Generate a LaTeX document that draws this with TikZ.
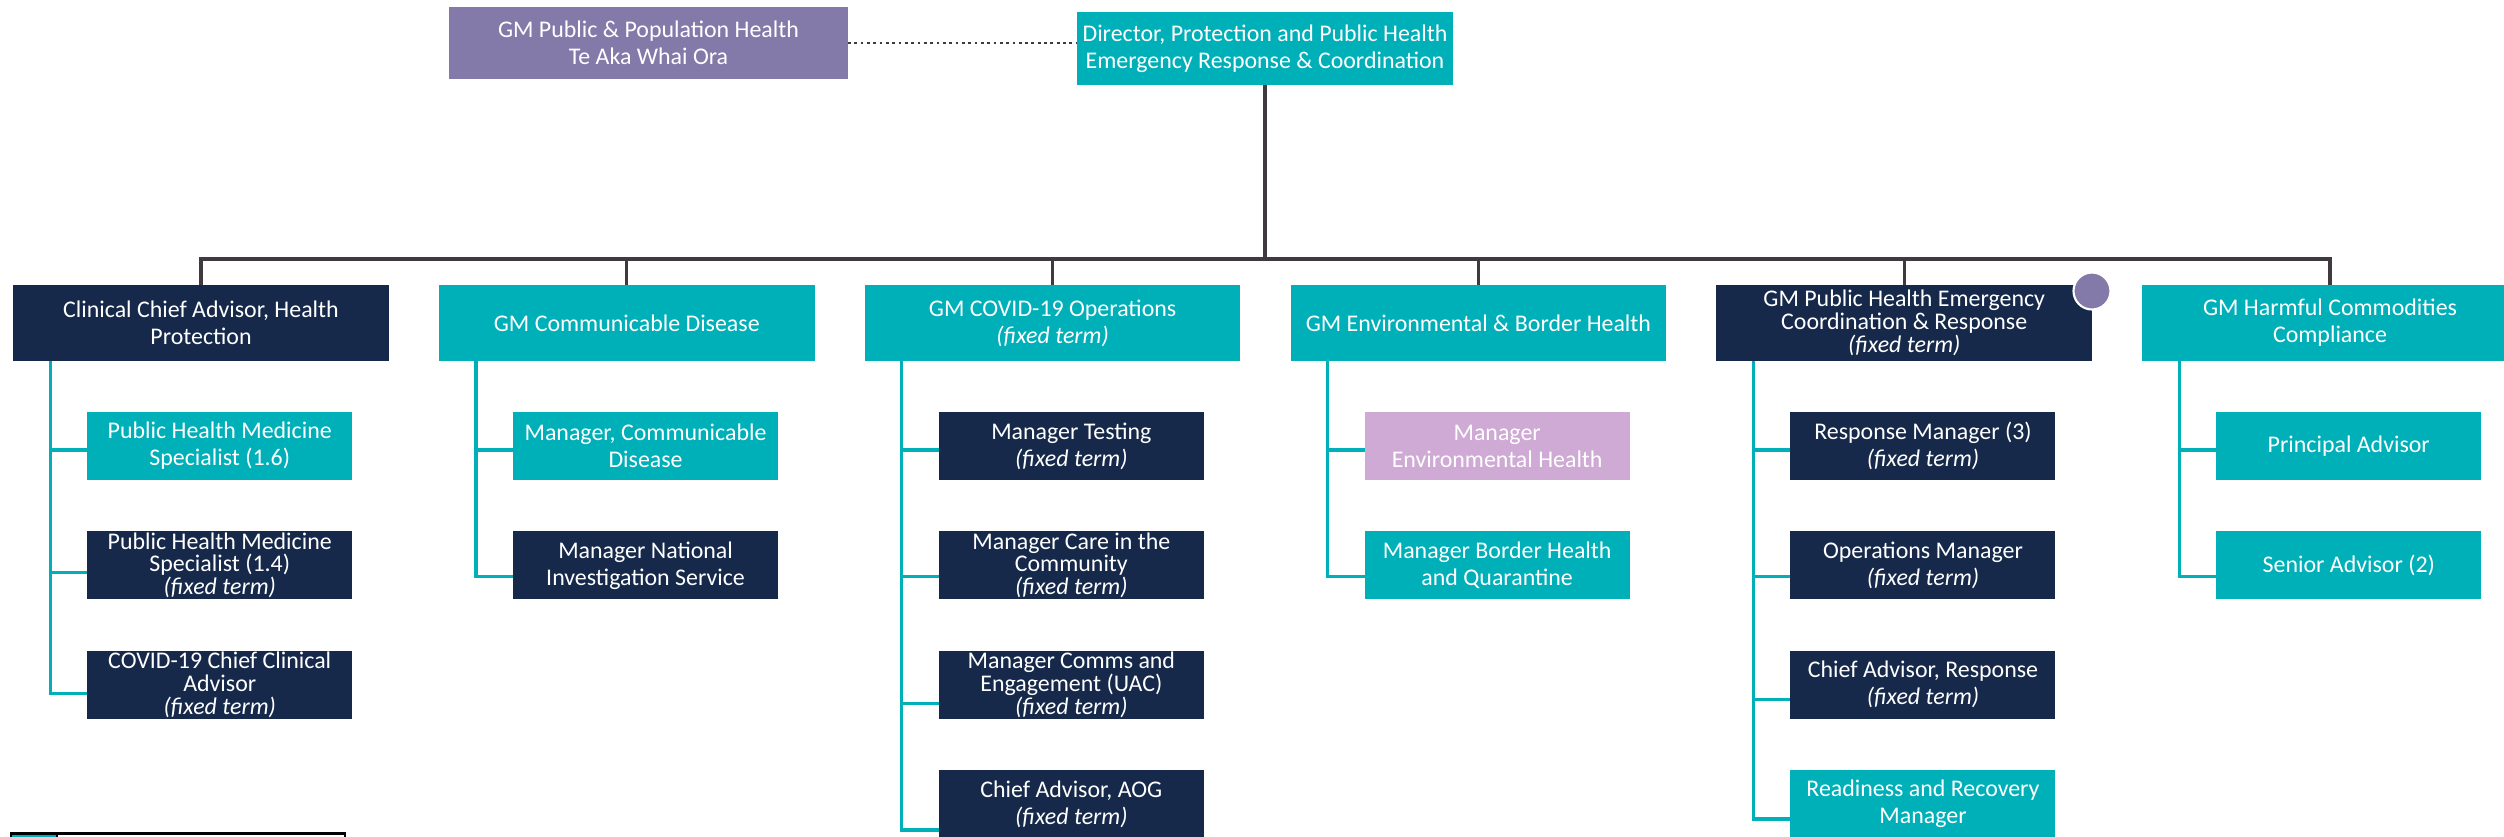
\documentclass[tikz,border=0pt]{standalone}
\usepackage{fontspec}
\setmainfont{Carlito}
\usetikzlibrary{positioning}
\definecolor{tq}{RGB}{0,176,185}
\definecolor{navy}{RGB}{22,41,74}
\definecolor{mauve}{RGB}{132,122,170}
\definecolor{lilac}{RGB}{206,170,212}
\definecolor{wire}{RGB}{64,58,64}
\begin{document}
\begin{tikzpicture}[box/.style = {rectangle, align=center, text=white, inner sep=0pt, outer sep=0pt, font=\fontsize{6.8}{7.7}\selectfont},
		head/.style = {box, minimum width=3.755cm, minimum height=0.76cm},
		post/.style = {box, minimum width=2.65cm, minimum height=0.68cm},
		tight/.style = {font=\fontsize{6.8}{6.5}\selectfont},
		trunk/.style = {draw=wire, line width=0.9pt},
		branch/.style = {draw=tq, line width=0.9pt},
		node distance=1.193cm]
		\useasboundingbox (0,0) rectangle (25.04,-8.36);
		\node[box, fill=tq, minimum width=3.76cm, minimum height=0.73cm] (dir) at (12.65,-0.485) {Director, Protection and Public Health\\Emergency Response \& Coordination};
		\node[box, fill=mauve, minimum width=3.99cm, minimum height=0.72cm] (gm) at (6.485,-0.43) {GM Public \& Population Health\\Te Aka Whai Ora};
		\node[head, fill=navy] (c1) at (2.01,-3.23) {Clinical Chief Advisor, Health\\Protection};
		\node[head, fill=tq] (c2) [right=0.503cm of c1] {GM Communicable Disease};
		\node[head, fill=tq] (c3) [right=0.503cm of c2] {GM COVID-19 Operations\\\textit{(fixed term)}};
		\node[head, fill=tq] (c4) [right=0.503cm of c3] {GM Environmental \& Border Health};
		\node[head, tight, fill=navy] (c5) [right=0.503cm of c4] {GM Public Health Emergency\\Coordination \& Response\\\textit{(fixed term)}};
		\node[head, fill=tq] (c6) [right=0.503cm of c5] {GM Harmful Commodities\\Compliance};
		\node[circle, fill=mauve, draw=white, line width=0.6pt, minimum size=0.37cm, inner sep=0pt] (dot) at ([yshift=-0.06cm]c5.north east) {};
		\node[post, fill=tq] (c1a) [below right=0.51cm and 0.74cm of c1.south west] {Public Health Medicine\\Specialist (1.6)};
		\node[post, tight, fill=navy] (c1b) [below of=c1a] {Public Health Medicine\\Specialist (1.4)\\\textit{(fixed term)}};
		\node[post, tight, fill=navy] (c1c) [below of=c1b] {COVID-19 Chief Clinical\\Advisor\\\textit{(fixed term)}};
		\node[post, fill=tq] (c2a) [below right=0.51cm and 0.74cm of c2.south west] {Manager, Communicable\\Disease};
		\node[post, fill=navy] (c2b) [below of=c2a] {Manager National\\Investigation Service};
		\node[post, fill=navy] (c3a) [below right=0.51cm and 0.74cm of c3.south west] {Manager Testing\\\textit{(fixed term)}};
		\node[post, tight, fill=navy] (c3b) [below of=c3a] {Manager Care in the\\Community\\\textit{(fixed term)}};
		\node[post, tight, fill=navy] (c3c) [below of=c3b] {Manager Comms and\\Engagement (UAC)\\\textit{(fixed term)}};
		\node[post, fill=navy] (c3d) [below of=c3c] {Chief Advisor, AOG\\\textit{(fixed term)}};
		\node[post, fill=lilac] (c4a) [below right=0.51cm and 0.74cm of c4.south west] {Manager\\Environmental Health};
		\node[post, fill=tq] (c4b) [below of=c4a] {Manager Border Health\\and Quarantine};
		\node[post, fill=navy] (c5a) [below right=0.51cm and 0.74cm of c5.south west] {Response Manager (3)\\\textit{(fixed term)}};
		\node[post, fill=navy] (c5b) [below of=c5a] {Operations Manager\\\textit{(fixed term)}};
		\node[post, fill=navy] (c5c) [below of=c5b] {Chief Advisor, Response\\\textit{(fixed term)}};
		\node[post, fill=tq] (c5d) [below of=c5c] {Readiness and Recovery\\Manager};
		\node[post, fill=tq] (c6a) [below right=0.51cm and 0.74cm of c6.south west] {Principal Advisor};
		\node[post, fill=tq] (c6b) [below of=c6a] {Senior Advisor (2)};
		\coordinate (bus) at (12.65,-2.59);
		\draw[draw=wire, line width=0.8pt, densely dotted] (gm.east) -- (gm.east -| dir.west);
		\draw[trunk] (dir.south) -- (bus);
		\draw[trunk] (c1.north) |- (bus) -| (c6.north);
		\draw[trunk] (c2.north) -- (c2.north |- bus);
		\draw[trunk] (c3.north) -- (c3.north |- bus);
		\draw[trunk] (c4.north) -- (c4.north |- bus);
		\draw[trunk] (c5.north) -- (c5.north |- bus);
		\draw[branch] ([xshift=0.37cm]c1.south west) |- ([yshift=-0.04cm]c1a.west);
		\draw[branch] ([xshift=0.37cm]c1.south west) |- ([yshift=-0.07cm]c1b.west);
		\draw[branch] ([xshift=0.37cm]c1.south west) |- ([yshift=-0.085cm]c1c.west);
		\draw[branch] ([xshift=0.37cm]c2.south west) |- ([yshift=-0.04cm]c2a.west);
		\draw[branch] ([xshift=0.37cm]c2.south west) |- ([yshift=-0.11cm]c2b.west);
		\draw[branch] ([xshift=0.37cm]c3.south west) |- ([yshift=-0.04cm]c3a.west);
		\draw[branch] ([xshift=0.37cm]c3.south west) |- ([yshift=-0.11cm]c3b.west);
		\draw[branch] ([xshift=0.37cm]c3.south west) |- ([yshift=-0.19cm]c3c.west);
		\draw[branch] ([xshift=0.37cm]c3.south west) |- ([yshift=-0.26cm]c3d.west);
		\draw[branch] ([xshift=0.37cm]c4.south west) |- ([yshift=-0.04cm]c4a.west);
		\draw[branch] ([xshift=0.37cm]c4.south west) |- ([yshift=-0.11cm]c4b.west);
		\draw[branch] ([xshift=0.37cm]c5.south west) |- ([yshift=-0.04cm]c5a.west);
		\draw[branch] ([xshift=0.37cm]c5.south west) |- ([yshift=-0.11cm]c5b.west);
		\draw[branch] ([xshift=0.37cm]c5.south west) |- ([yshift=-0.145cm]c5c.west);
		\draw[branch] ([xshift=0.37cm]c5.south west) |- ([yshift=-0.15cm]c5d.west);
		\draw[branch] ([xshift=0.37cm]c6.south west) |- ([yshift=-0.04cm]c6a.west);
		\draw[branch] ([xshift=0.37cm]c6.south west) |- ([yshift=-0.11cm]c6b.west);
		% legend, cut off at the page edge
		\draw[line width=0.8pt, fill=white] (0.11,-8.335) rectangle (3.45,-8.8);
		\draw[line width=0.8pt, fill=tq] (0.11,-8.335) rectangle (0.57,-8.8);
	\end{tikzpicture}
\end{document}
